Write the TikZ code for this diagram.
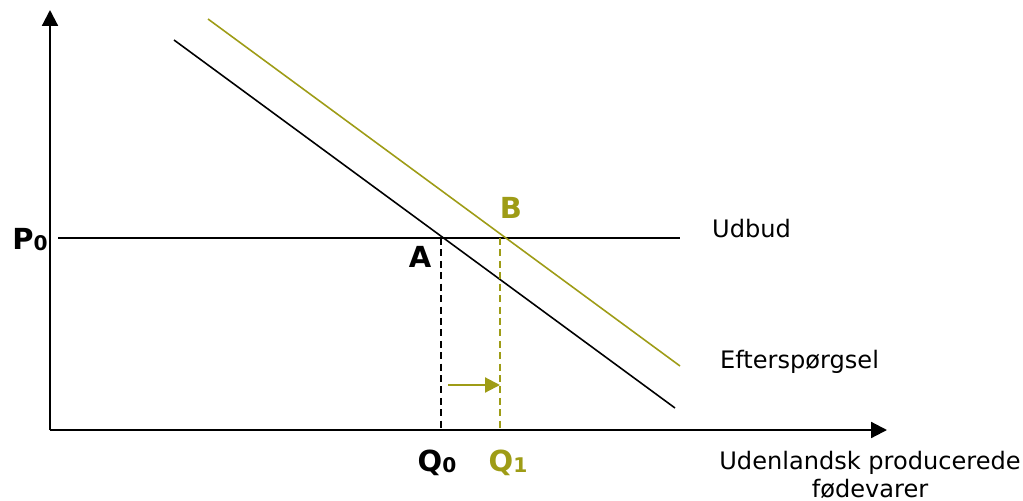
\documentclass[tikz,border=0pt]{standalone}
\usepackage{fontspec}
\setmainfont{DejaVu Sans}
\usetikzlibrary{arrows.meta}
\definecolor{shiftcol}{RGB}{158,156,22}
\newcommand{\lowidx}[1]{\raisebox{-0.6pt}{\fontsize{11.5}{12}\selectfont #1}}

\begin{document}
\begin{tikzpicture}[x=0.02cm,y=-0.02cm,
    lbl/.style={font=\fontsize{13.7}{16}\selectfont},
    blbl/.style={font=\fontsize{16.5}{18}\selectfont\bfseries},
    axis/.style={line width=1.2pt,-{Triangle[length=9pt,width=9pt]}},
    curve/.style={line width=0.9pt},
    guide/.style={line width=0.9pt,dash pattern=on 4pt off 2.5pt}]
    \useasboundingbox (0,0) rectangle (1023,500);
    % axes
    \coordinate (O) at (50,430);
    \coordinate (ytop) at (50,10);
    \coordinate (xend) at (887,430);
    \draw[axis] (O) -- (ytop);
    \draw[axis] (O) -- (xend);
    % supply and demand
    \coordinate (s0) at (58,238);
    \coordinate (s1) at (680,238);
    \coordinate (d0) at (174,40);
    \coordinate (d1) at (675,408);
    \coordinate (n0) at (208,19);
    \coordinate (n1) at (680,366);
    \draw[curve] (s0) -- (s1);
    \draw[curve] (d0) -- (d1);
    \draw[curve,shiftcol] (n0) -- (n1);
    % equilibria
    \coordinate (ptA) at (441,238);
    \coordinate (ptB) at (500,238);
    \coordinate (qA) at (441,430);
    \coordinate (qB) at (500,430);
    \draw[guide] (ptA) -- (qA);
    \draw[guide,shiftcol] (ptB) -- (qB);
    \coordinate (sh0) at (448,385);
    \coordinate (sh1) at (500,385);
    \draw[line width=1.2pt,shiftcol,-{Triangle[length=8.5pt,width=8.5pt]}] (sh0) -- (sh1);
    % labels
    \node[blbl] (P0) at (30,240) {P\lowidx{0}};
    \node[blbl] (A) at (420,257) {A};
    \node[blbl,shiftcol] (B) at (511,208) {B};
    \node[blbl] (Q0) at (437,463) {Q\lowidx{0}};
    \node[blbl,shiftcol] (Q1) at (508,463) {Q\lowidx{1}};
    \node[lbl,anchor=west] (udbud) at (706,229) {Udbud};
    \node[lbl,anchor=west] (eftersp) at (714,362) {Efterspørgsel};
    \node[lbl,anchor=base,inner sep=0pt] (xlab) at (870,469) {Udenlandsk producerede};
    \node[lbl,anchor=base,inner sep=0pt] (xlab2) at (870,497) {fødevarer};
\end{tikzpicture}
\end{document}
